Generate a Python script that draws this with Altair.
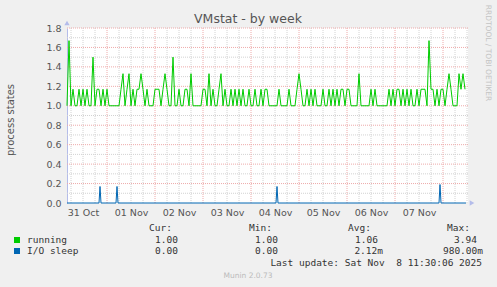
import altair as alt
import pandas as pd

# ---------------- data ----------------
run_start = "2025-10-31 04:00"
running = [
    1.0, 1.67, 1.0, 1.17, 1.0, 1.0, 1.17, 1.0, 1.17, 1.0, 1.17, 1.0, 1.0, 1.5, 1.0, 1.17, 1.17, 1.0, 1.17, 1.0,
    1.17, 1.0, 1.0, 1.0, 1.0, 1.0, 1.0, 1.17, 1.33, 1.0, 1.17, 1.33, 1.0, 1.17, 1.0, 1.17, 1.17, 1.33, 1.17, 1.0,
    1.17, 1.0, 1.0, 1.0, 1.17, 1.17, 1.17, 1.0, 1.17, 1.33, 1.17, 1.0, 1.0, 1.5, 1.0, 1.0, 1.17, 1.0, 1.0, 1.17,
    1.17, 1.0, 1.33, 1.0, 1.0, 1.0, 1.0, 1.0, 1.17, 1.17, 1.0, 1.33, 1.0, 1.17, 1.0, 1.0, 1.17, 1.33, 1.0, 1.17,
    1.0, 1.0, 1.17, 1.0, 1.17, 1.0, 1.17, 1.0, 1.17, 1.0, 1.0, 1.17, 1.0, 1.0, 1.17, 1.0, 1.0, 1.17, 1.0, 1.17,
    1.17, 1.0, 1.0, 1.0, 1.0, 1.0, 1.17, 1.0, 1.0, 1.0, 1.0, 1.17, 1.0, 1.0, 1.0, 1.17, 1.33, 1.17, 1.0, 1.0,
    1.17, 1.0, 1.17, 1.0, 1.17, 1.0, 1.0, 1.0, 1.17, 1.0, 1.0, 1.17, 1.0, 1.17, 1.0, 1.17, 1.0, 1.17, 1.17, 1.0,
    1.17, 1.17, 1.0, 1.0, 1.0, 1.0, 1.33, 1.0, 1.0, 1.0, 1.0, 1.0, 1.17, 1.0, 1.17, 1.0, 1.0, 1.0, 1.0, 1.0,
    1.0, 1.17, 1.0, 1.17, 1.0, 1.17, 1.17, 1.0, 1.17, 1.0, 1.17, 1.0, 1.17, 1.0, 1.0, 1.17, 1.0, 1.17, 1.17, 1.17,
    1.0, 1.67, 1.17, 1.17, 1.0, 1.17, 1.0, 1.17, 1.17, 1.0, 1.17, 1.33, 1.17, 1.0, 1.0, 1.0, 1.33, 1.17, 1.33, 1.17,
]

io_times = [
    "2025-10-31 04:00", "2025-10-31 20:00", "2025-10-31 20:30", "2025-10-31 21:00",
    "2025-11-01 04:30", "2025-11-01 05:00", "2025-11-01 05:30",
    "2025-11-04 12:30", "2025-11-04 13:00", "2025-11-04 13:30",
    "2025-11-07 22:00", "2025-11-07 22:30", "2025-11-07 23:00", "2025-11-08 11:30",
]
io_values = [0, 0, 0.17, 0, 0, 0.17, 0, 0, 0.17, 0, 0, 0.19, 0, 0]

day_labels_at = ["2025-10-31", "2025-11-01", "2025-11-02", "2025-11-03",
                 "2025-11-04", "2025-11-05", "2025-11-06", "2025-11-07"]
major_days = ["2025-11-01", "2025-11-02", "2025-11-03", "2025-11-04",
              "2025-11-05", "2025-11-06", "2025-11-07", "2025-11-08"]
y_ticks = [0.0, 0.2, 0.4, 0.6, 0.8, 1.0, 1.2, 1.4, 1.6, 1.8]
y_minor = [0.1, 0.3, 0.5, 0.7, 0.9, 1.1, 1.3, 1.5, 1.7]

series_names = ["running", "I/O sleep"]
series_colors = ["#00cc00", "#0066b3"]
stat_headers = ["Cur:", "Min:", "Avg:", "Max:"]
running_stats = ["1.00", "1.00", "1.06", "3.94"]
io_stats = ["0.00", "0.00", "2.12m", "980.00m"]
title_text = "VMstat - by week"
y_title = "process states"
last_update = "Last update: Sat Nov\u00a0 8 11:30:06 2025"
footer = "Munin 2.0.73"
side_text = "RRDTOOL / TOBI OETIKER"


def iso(ts):
    return pd.Timestamp(ts).strftime("%Y-%m-%dT%H:%M:%SZ")


def dt(ts):
    t = pd.Timestamp(ts)
    return alt.DateTime(year=t.year, month=t.month, date=t.day,
                        hours=t.hour, minutes=t.minute, utc=True)


run_df = pd.DataFrame({
    "t": [iso(t) for t in pd.date_range(run_start, periods=len(running), freq="h")],
    "v": running,
})
io_df = pd.DataFrame({"t": [iso(t) for t in io_times], "v": io_values})

major_df = pd.DataFrame({"t": [iso(d) for d in major_days]})
minor_list = []
for d in pd.date_range("2025-10-31 06:00", "2025-11-08 12:00", freq="6h"):
    if d.hour != 0:
        minor_list.append(iso(d))
minor_df = pd.DataFrame({"t": minor_list})
ymaj_df = pd.DataFrame({"y": y_ticks[1:]})
ymin_df = pd.DataFrame({"y": y_minor})

W, H = 401, 175
x_scale = alt.Scale(type="utc", domain=[dt("2025-10-31 04:00"), dt("2025-11-08 12:30")])
y_scale = alt.Scale(domain=[0, 1.8], nice=False, zero=False)

label_ticks = [dt(d + " 12:00") for d in day_labels_at]

x_enc = alt.X("t:T", scale=x_scale, title=None,
              axis=alt.Axis(values=label_ticks, format="%d %b", labelFontSize=9.5,
                            labelColor="#555555", labelFont="DejaVu Sans", ticks=False,
                            grid=False, domain=False, labelPadding=4, labelFlush=False,
                            labelOverlap=False))
y_axis = alt.Axis(values=y_ticks, format=".1f", labelFontSize=9.5, labelColor="#555555",
                  labelFont="DejaVu Sans", ticks=False, grid=False, domainColor="#b4bcea",
                  labelPadding=6, title=None)

grid_minor_v = alt.Chart(minor_df).mark_rule(color="#d2d2d2", strokeDash=[1, 1], strokeWidth=1).encode(
    x=x_enc)
grid_major_v = alt.Chart(major_df).mark_rule(color="#eeaaaa", strokeDash=[1, 1], strokeWidth=1).encode(
    x=x_enc)
grid_minor_h = alt.Chart(ymin_df).mark_rule(color="#d2d2d2", strokeDash=[1, 1], strokeWidth=1).encode(
    y=alt.Y("y:Q", scale=y_scale, axis=y_axis))
grid_major_h = alt.Chart(ymaj_df).mark_rule(color="#eeaaaa", strokeDash=[1, 1], strokeWidth=1).encode(
    y=alt.Y("y:Q", scale=y_scale, axis=y_axis))

io_line = alt.Chart(io_df).mark_line(color=series_colors[1], strokeWidth=1).encode(
    x=x_enc, y=alt.Y("v:Q", scale=y_scale, axis=y_axis))
run_line = alt.Chart(run_df).mark_line(color=series_colors[0], strokeWidth=1).encode(
    x=x_enc, y=alt.Y("v:Q", scale=y_scale, axis=y_axis))

one = pd.DataFrame({"a": [0]})


def txt(s, x, y, size=9.5, align="left", color="#333333", font="DejaVu Sans Mono", angle=0):
    kw = dict(align=align, baseline="middle", fontSize=size, font=font, color=color)
    if angle:
        kw["angle"] = angle
    return alt.Chart(pd.DataFrame({"s": [s]})).mark_text(**kw).encode(
        x=alt.value(x), y=alt.value(y), text="s:N")


def pt(shape, x, y, color, size):
    return alt.Chart(one).mark_point(shape=shape, filled=True, size=size, color=color, opacity=1).encode(
        x=alt.value(x), y=alt.value(y))


ox, oy = 67, 28  # plot origin in page pixels
decor = [
    txt(title_text, 248 - ox, 19 - oy, size=12.5, align="center", color="#555555", font="DejaVu Sans"),
    txt(y_title, 11 - ox, 120 - oy, size=10, align="center", color="#555555", font="DejaVu Sans", angle=270),
    txt(side_text, 488 - ox, 53 - oy, size=7.5, align="center", color="#c4c4c4", font="DejaVu Sans", angle=90),
    txt(footer, 248 - ox, 276 - oy, size=7.5, align="center", color="#bbbbbb", font="DejaVu Sans"),
    txt(last_update, 482 - ox, 263 - oy, align="right"),
    pt("triangle-up", 0, -5, "#b4bcea", 28),
    pt("triangle-right", W + 4, H, "#b4bcea", 28),
    pt("square", 17 - ox, 240 - oy, series_colors[0], 36),
    pt("square", 17 - ox, 251 - oy, series_colors[1], 36),
    txt(series_names[0], 27 - ox, 240 - oy),
    txt(series_names[1], 27 - ox, 251 - oy),
]
header_left = [149, 249, 348, 447]
value_right = [178, 278, 378, 477]
io_right = [178, 278, 383, 483]
for i in range(4):
    decor.append(txt(stat_headers[i], header_left[i] - ox, 228 - oy))
    decor.append(txt(running_stats[i], value_right[i] - ox, 240 - oy, align="right"))
    decor.append(txt(io_stats[i], io_right[i] - ox, 251 - oy, align="right"))

chart = alt.layer(
    grid_minor_v, grid_minor_h, grid_major_v, grid_major_h, io_line, run_line, *decor
).properties(
    width=W, height=H,
    autosize=alt.AutoSizeParams(type="none"),
    padding={"left": ox, "top": oy, "right": 497 - ox - W, "bottom": 287 - oy - H},
    background="#f0f0f0",
).configure_view(fill="white", stroke=None)

chart.save("out.html", embed_options={"renderer": "svg", "actions": False})
